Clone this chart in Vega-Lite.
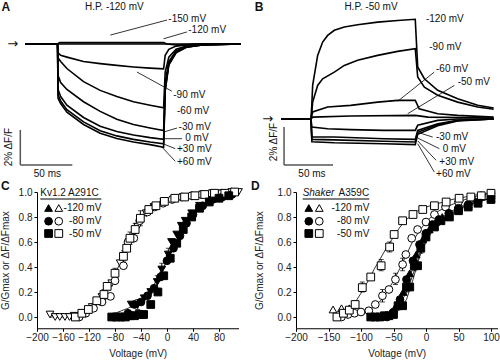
{
"$schema": "https://vega.github.io/schema/vega-lite/v6.json",
"padding": 0,
"background": "white",
"config": {
 "font": "Liberation Sans",
 "view": {"stroke": null},
 "axis": {"grid": false, "domainColor": "#000", "tickColor": "#000", "labelColor": "#222", "titleColor": "#222", "labelFontSize": 10, "titleFontSize": 10, "titleFontWeight": "normal", "tickSize": 3, "labelFont": "Liberation Sans", "titleFont": "Liberation Sans"},
 "text": {"font": "Liberation Sans", "fontSize": 10, "color": "#111"}
},
"datasets": {
 "A_tr": [
  {"trace":"-150","t":0,"v":0},{"trace":"-150","t":31,"v":0},{"trace":"-150","t":33,"v":0.08},{"trace":"-150","t":133,"v":0.08},{"trace":"-150","t":136,"v":0},{"trace":"-150","t":145,"v":-0.06},{"trace":"-150","t":165,"v":0},{"trace":"-150","t":207,"v":0},
  {"trace":"-120","t":0,"v":0},{"trace":"-120","t":31,"v":0},{"trace":"-120","t":133,"v":0},{"trace":"-120","t":207,"v":0},
  {"trace":"-90","t":0,"v":0},{"trace":"-90","t":31,"v":0},{"trace":"-90","t":31.5,"v":-0.5},{"trace":"-90","t":34,"v":-0.65},{"trace":"-90","t":40,"v":-0.75},{"trace":"-90","t":56,"v":-1.0},{"trace":"-90","t":72,"v":-1.12},{"trace":"-90","t":88,"v":-1.22},{"trace":"-90","t":104,"v":-1.31},{"trace":"-90","t":120,"v":-1.38},{"trace":"-90","t":133,"v":-1.42},{"trace":"-90","t":134.5,"v":-0.65},{"trace":"-90","t":138,"v":-0.3},{"trace":"-90","t":145,"v":-0.12},{"trace":"-90","t":155,"v":-0.05},{"trace":"-90","t":170,"v":0},{"trace":"-90","t":207,"v":0},
  {"trace":"-60","t":0,"v":0},{"trace":"-60","t":31,"v":0},{"trace":"-60","t":31.5,"v":-0.8},{"trace":"-60","t":34,"v":-1.0},{"trace":"-60","t":40,"v":-1.4},{"trace":"-60","t":56,"v":-2.15},{"trace":"-60","t":72,"v":-2.65},{"trace":"-60","t":88,"v":-3.0},{"trace":"-60","t":104,"v":-3.3},{"trace":"-60","t":120,"v":-3.5},{"trace":"-60","t":133,"v":-3.65},{"trace":"-60","t":134.5,"v":-1.6},{"trace":"-60","t":138,"v":-0.75},{"trace":"-60","t":145,"v":-0.3},{"trace":"-60","t":155,"v":-0.12},{"trace":"-60","t":170,"v":-0.03},{"trace":"-60","t":207,"v":0},
  {"trace":"-30","t":0,"v":0},{"trace":"-30","t":31,"v":0},{"trace":"-30","t":31.5,"v":-1.8},{"trace":"-30","t":34,"v":-2.2},{"trace":"-30","t":40,"v":-2.6},{"trace":"-30","t":56,"v":-3.3},{"trace":"-30","t":72,"v":-3.85},{"trace":"-30","t":88,"v":-4.3},{"trace":"-30","t":104,"v":-4.6},{"trace":"-30","t":120,"v":-4.8},{"trace":"-30","t":133,"v":-4.95},{"trace":"-30","t":134.5,"v":-2.2},{"trace":"-30","t":138,"v":-1.0},{"trace":"-30","t":145,"v":-0.4},{"trace":"-30","t":155,"v":-0.15},{"trace":"-30","t":170,"v":-0.04},{"trace":"-30","t":207,"v":0},
  {"trace":"0","t":0,"v":0},{"trace":"0","t":31,"v":0},{"trace":"0","t":31.5,"v":-2.6},{"trace":"0","t":34,"v":-3.0},{"trace":"0","t":40,"v":-3.5},{"trace":"0","t":56,"v":-4.2},{"trace":"0","t":72,"v":-4.7},{"trace":"0","t":88,"v":-5.0},{"trace":"0","t":104,"v":-5.2},{"trace":"0","t":120,"v":-5.35},{"trace":"0","t":133,"v":-5.45},{"trace":"0","t":134.5,"v":-2.5},{"trace":"0","t":138,"v":-1.1},{"trace":"0","t":145,"v":-0.45},{"trace":"0","t":155,"v":-0.17},{"trace":"0","t":170,"v":-0.05},{"trace":"0","t":207,"v":0},
  {"trace":"+30","t":0,"v":0},{"trace":"+30","t":31,"v":0},{"trace":"+30","t":31.5,"v":-2.9},{"trace":"+30","t":34,"v":-3.25},{"trace":"+30","t":40,"v":-3.75},{"trace":"+30","t":56,"v":-4.45},{"trace":"+30","t":72,"v":-4.95},{"trace":"+30","t":88,"v":-5.25},{"trace":"+30","t":104,"v":-5.45},{"trace":"+30","t":120,"v":-5.6},{"trace":"+30","t":133,"v":-5.7},{"trace":"+30","t":134.5,"v":-2.6},{"trace":"+30","t":138,"v":-1.15},{"trace":"+30","t":145,"v":-0.47},{"trace":"+30","t":155,"v":-0.18},{"trace":"+30","t":170,"v":-0.05},{"trace":"+30","t":207,"v":0},
  {"trace":"+60","t":0,"v":0},{"trace":"+60","t":31,"v":0},{"trace":"+60","t":31.5,"v":-3.1},{"trace":"+60","t":34,"v":-3.4},{"trace":"+60","t":40,"v":-3.9},{"trace":"+60","t":56,"v":-4.6},{"trace":"+60","t":72,"v":-5.1},{"trace":"+60","t":88,"v":-5.4},{"trace":"+60","t":104,"v":-5.6},{"trace":"+60","t":120,"v":-5.75},{"trace":"+60","t":133,"v":-5.9},{"trace":"+60","t":134.5,"v":-2.7},{"trace":"+60","t":138,"v":-1.2},{"trace":"+60","t":145,"v":-0.5},{"trace":"+60","t":155,"v":-0.19},{"trace":"+60","t":170,"v":-0.05},{"trace":"+60","t":207,"v":0}
 ],
 "A_seg": [
  {"t":81.7,"v":0.51,"t2":136.3,"v2":1.37},
  {"t":133,"v":0.3,"t2":155.5,"v2":0.69},
  {"t":107.4,"v":-1.6,"t2":141,"v2":-2.7},
  {"t":133,"v":-5.03,"t2":145.9,"v2":-4.8},
  {"t":133,"v":-5.41,"t2":150.7,"v2":-5.41},
  {"t":132.4,"v":-5.7,"t2":144.2,"v2":-5.98},
  {"t":131.4,"v":-5.89,"t2":144.2,"v2":-6.7}
 ],
 "A_bar": [
  {"t":-4.8,"v":-4.91,"t2":-4.8,"v2":-6.91},
  {"t":-4.8,"v":-6.91,"t2":45.2,"v2":-6.91}
 ],
 "A_lab": [
  {"label":"-150 mV","t":137.5,"v":1.45},
  {"label":"-120 mV","t":156.7,"v":0.8},
  {"label":"-90 mV","t":142.3,"v":-2.91},
  {"label":"-60 mV","t":145.9,"v":-3.85},
  {"label":"-30 mV","t":147.4,"v":-4.74},
  {"label":"0 mV","t":153.8,"v":-5.37},
  {"label":"+30 mV","t":145.9,"v":-5.98},
  {"label":"+60 mV","t":145.9,"v":-6.74}
 ],
 "A_ctr": [
  {"label":"H.P. -120 mV","t":85.6,"v":2.11},
  {"label":"50 ms","t":21.2,"v":-7.43}
 ],
 "A_rot": [{"label":"2% ΔF/F","t":-15.4,"v":-5.89}],
 "A_let": [{"label":"A","t":-18.75,"v":2.11}],
 "A_arr": [{"label":"→","t":-12,"v":0}],
 "B_tr": [
  {"trace":"-120","t":0,"v":0},{"trace":"-120","t":30.6,"v":0},{"trace":"-120","t":31.5,"v":0.8},{"trace":"-120","t":32.3,"v":1.77},{"trace":"-120","t":37.4,"v":3.35},{"trace":"-120","t":42.5,"v":4.05},{"trace":"-120","t":47.6,"v":4.4},{"trace":"-120","t":54.4,"v":4.67},{"trace":"-120","t":64.6,"v":4.84},{"trace":"-120","t":78.2,"v":4.96},{"trace":"-120","t":98.6,"v":5.1},{"trace":"-120","t":119,"v":5.19},{"trace":"-120","t":137,"v":5.25},{"trace":"-120","t":139.5,"v":2.74},{"trace":"-120","t":146.3,"v":2.12},{"trace":"-120","t":159.9,"v":1.51},{"trace":"-120","t":180.3,"v":1.07},{"trace":"-120","t":200.7,"v":0.72},{"trace":"-120","t":217,"v":0.58},
  {"trace":"-90","t":0,"v":0},{"trace":"-90","t":30.6,"v":0},{"trace":"-90","t":31.5,"v":0.4},{"trace":"-90","t":32.3,"v":0.89},{"trace":"-90","t":37.4,"v":1.77},{"trace":"-90","t":42.5,"v":2.12},{"trace":"-90","t":54.4,"v":2.47},{"trace":"-90","t":64.6,"v":2.82},{"trace":"-90","t":78.2,"v":3.09},{"trace":"-90","t":98.6,"v":3.35},{"trace":"-90","t":119,"v":3.56},{"trace":"-90","t":137,"v":3.7},{"trace":"-90","t":139.5,"v":2.21},{"trace":"-90","t":146.3,"v":1.68},{"trace":"-90","t":159.9,"v":1.25},{"trace":"-90","t":180.3,"v":0.89},{"trace":"-90","t":200.7,"v":0.63},{"trace":"-90","t":217,"v":0.51},
  {"trace":"-60","t":0,"v":0},{"trace":"-60","t":30.6,"v":0},{"trace":"-60","t":32.3,"v":0.37},{"trace":"-60","t":47.6,"v":0.63},{"trace":"-60","t":71,"v":0.72},{"trace":"-60","t":98.6,"v":0.89},{"trace":"-60","t":119,"v":0.98},{"trace":"-60","t":137,"v":0.98},{"trace":"-60","t":141,"v":0.54},{"trace":"-60","t":159.9,"v":0.28},{"trace":"-60","t":180.3,"v":0.19},{"trace":"-60","t":217,"v":0.1},
  {"trace":"-50","t":0,"v":0},{"trace":"-50","t":30.6,"v":0},{"trace":"-50","t":32.3,"v":0.1},{"trace":"-50","t":71,"v":0.16},{"trace":"-50","t":137,"v":0.19},{"trace":"-50","t":150,"v":0.1},{"trace":"-50","t":217,"v":0.05},
  {"trace":"-30","t":0,"v":0},{"trace":"-30","t":30.6,"v":0},{"trace":"-30","t":31.5,"v":-0.42},{"trace":"-30","t":47.6,"v":-0.51},{"trace":"-30","t":71,"v":-0.56},{"trace":"-30","t":105,"v":-0.6},{"trace":"-30","t":137,"v":-0.6},{"trace":"-30","t":139.5,"v":-0.33},{"trace":"-30","t":159.9,"v":-0.07},{"trace":"-30","t":180,"v":0},{"trace":"-30","t":217,"v":0},
  {"trace":"0","t":0,"v":0},{"trace":"0","t":30.6,"v":0},{"trace":"0","t":31.5,"v":-0.95},{"trace":"0","t":54.4,"v":-0.95},{"trace":"0","t":105,"v":-1.04},{"trace":"0","t":137,"v":-1.07},{"trace":"0","t":139.5,"v":-0.6},{"trace":"0","t":159.9,"v":-0.25},{"trace":"0","t":180.3,"v":-0.07},{"trace":"0","t":217,"v":0},
  {"trace":"+30","t":0,"v":0},{"trace":"+30","t":30.6,"v":0},{"trace":"+30","t":31.5,"v":-1.07},{"trace":"+30","t":54.4,"v":-1.1},{"trace":"+30","t":105,"v":-1.17},{"trace":"+30","t":137,"v":-1.21},{"trace":"+30","t":139.5,"v":-0.7},{"trace":"+30","t":159.9,"v":-0.3},{"trace":"+30","t":180.3,"v":-0.08},{"trace":"+30","t":217,"v":0},
  {"trace":"+60","t":0,"v":0},{"trace":"+60","t":30.6,"v":0},{"trace":"+60","t":31.5,"v":-1.2},{"trace":"+60","t":54.4,"v":-1.25},{"trace":"+60","t":105,"v":-1.3},{"trace":"+60","t":137,"v":-1.35},{"trace":"+60","t":139.5,"v":-0.8},{"trace":"+60","t":159.9,"v":-0.35},{"trace":"+60","t":180.3,"v":-0.1},{"trace":"+60","t":217,"v":0}
 ],
 "B_seg": [
  {"t":119,"v":0.93,"t2":156.4,"v2":2.47},
  {"t":129.3,"v":0.28,"t2":176.9,"v2":1.77},
  {"t":139.5,"v":-0.7,"t2":154.8,"v2":-0.95},
  {"t":139.5,"v":-1.0,"t2":161.6,"v2":-1.56},
  {"t":139.5,"v":-1.15,"t2":158.2,"v2":-2.17},
  {"t":139.5,"v":-1.3,"t2":156.4,"v2":-2.79}
 ],
 "B_bar": [
  {"t":3.1,"v":-0.42,"t2":3.1,"v2":-2.42},
  {"t":3.1,"v":-2.42,"t2":53.1,"v2":-2.42}
 ],
 "B_lab": [
  {"label":"-120 mV","t":147.9,"v":5.25},
  {"label":"-90 mV","t":151.3,"v":3.79},
  {"label":"-60 mV","t":158.2,"v":2.65},
  {"label":"-50 mV","t":180.3,"v":1.95},
  {"label":"-30 mV","t":158.2,"v":-0.95},
  {"label":"0 mV","t":165,"v":-1.58},
  {"label":"+30 mV","t":161.6,"v":-2.26},
  {"label":"+60 mV","t":158.2,"v":-2.88}
 ],
 "B_ctr": [
  {"label":"H.P. -50 mV","t":91.8,"v":5.89},
  {"label":"50 ms","t":31.6,"v":-2.88}
 ],
 "B_rot": [{"label":"2% ΔF/F","t":-7.6,"v":-1.21}],
 "B_let": [{"label":"B","t":-22.4,"v":5.9}],
 "B_arr": [{"label":"→","t":-13.6,"v":0}],
 "C_pts": [
  {"h":"-120 mV","k":"F","V":-180,"y":0.02},{"h":"-120 mV","k":"F","V":-172,"y":0.0},{"h":"-120 mV","k":"F","V":-165,"y":0.0},{"h":"-120 mV","k":"F","V":-157,"y":0.0},{"h":"-120 mV","k":"F","V":-150,"y":0.0},{"h":"-120 mV","k":"F","V":-143,"y":0.01},{"h":"-120 mV","k":"F","V":-130,"y":0.03},{"h":"-120 mV","k":"F","V":-115,"y":0.08},{"h":"-120 mV","k":"F","V":-100,"y":0.16},{"h":"-120 mV","k":"F","V":-85,"y":0.27},{"h":"-120 mV","k":"F","V":-72,"y":0.43},{"h":"-120 mV","k":"F","V":-58,"y":0.6},{"h":"-120 mV","k":"F","V":-45,"y":0.72},{"h":"-120 mV","k":"F","V":-32,"y":0.83},{"h":"-120 mV","k":"F","V":-20,"y":0.88},{"h":"-120 mV","k":"F","V":-5,"y":0.92},{"h":"-120 mV","k":"F","V":10,"y":0.94},{"h":"-120 mV","k":"F","V":25,"y":0.96},{"h":"-120 mV","k":"F","V":40,"y":0.97},{"h":"-120 mV","k":"F","V":55,"y":0.98},{"h":"-120 mV","k":"F","V":70,"y":0.99},{"h":"-120 mV","k":"F","V":85,"y":0.99},{"h":"-120 mV","k":"F","V":100,"y":1.0},{"h":"-120 mV","k":"F","V":110,"y":1.0},
  {"h":"-120 mV","k":"G","V":-55,"y":0.1},{"h":"-120 mV","k":"G","V":-45,"y":0.1},{"h":"-120 mV","k":"G","V":-35,"y":0.15},{"h":"-120 mV","k":"G","V":-25,"y":0.2},{"h":"-120 mV","k":"G","V":-15,"y":0.28},{"h":"-120 mV","k":"G","V":-8,"y":0.38},{"h":"-120 mV","k":"G","V":2,"y":0.5},{"h":"-120 mV","k":"G","V":7,"y":0.6},{"h":"-120 mV","k":"G","V":15,"y":0.66},{"h":"-120 mV","k":"G","V":22,"y":0.73},{"h":"-120 mV","k":"G","V":28,"y":0.77},{"h":"-120 mV","k":"G","V":38,"y":0.83},{"h":"-120 mV","k":"G","V":50,"y":0.89},{"h":"-120 mV","k":"G","V":66,"y":0.93},{"h":"-120 mV","k":"G","V":81,"y":0.96},{"h":"-120 mV","k":"G","V":96,"y":0.98},
  {"h":"-80 mV","k":"F","V":-135,"y":0.0},{"h":"-80 mV","k":"F","V":-125,"y":0.03},{"h":"-80 mV","k":"F","V":-113,"y":0.07},{"h":"-80 mV","k":"F","V":-100,"y":0.12},{"h":"-80 mV","k":"F","V":-87,"y":0.165},{"h":"-80 mV","k":"F","V":-80,"y":0.29},{"h":"-80 mV","k":"F","V":-67,"y":0.41},{"h":"-80 mV","k":"F","V":-60,"y":0.6},{"h":"-80 mV","k":"F","V":-51,"y":0.63},{"h":"-80 mV","k":"F","V":-42,"y":0.77},{"h":"-80 mV","k":"F","V":-30,"y":0.84},{"h":"-80 mV","k":"F","V":-19,"y":0.88},{"h":"-80 mV","k":"F","V":-6,"y":0.91},{"h":"-80 mV","k":"F","V":8,"y":0.94},{"h":"-80 mV","k":"F","V":23,"y":0.96},{"h":"-80 mV","k":"F","V":38,"y":0.97},{"h":"-80 mV","k":"F","V":53,"y":0.98},{"h":"-80 mV","k":"F","V":68,"y":0.99},{"h":"-80 mV","k":"F","V":84,"y":0.99},{"h":"-80 mV","k":"F","V":99,"y":1.0},
  {"h":"-80 mV","k":"G","V":-80,"y":0.0},{"h":"-80 mV","k":"G","V":-70,"y":0.0},{"h":"-80 mV","k":"G","V":-60,"y":0.03},{"h":"-80 mV","k":"G","V":-50,"y":0.1},{"h":"-80 mV","k":"G","V":-40,"y":0.12},{"h":"-80 mV","k":"G","V":-30,"y":0.17},{"h":"-80 mV","k":"G","V":-20,"y":0.23},{"h":"-80 mV","k":"G","V":-10,"y":0.32},{"h":"-80 mV","k":"G","V":0,"y":0.45},{"h":"-80 mV","k":"G","V":10,"y":0.55},{"h":"-80 mV","k":"G","V":20,"y":0.65},{"h":"-80 mV","k":"G","V":30,"y":0.75},{"h":"-80 mV","k":"G","V":40,"y":0.82},{"h":"-80 mV","k":"G","V":55,"y":0.89},{"h":"-80 mV","k":"G","V":70,"y":0.94},{"h":"-80 mV","k":"G","V":85,"y":0.96},{"h":"-80 mV","k":"G","V":100,"y":0.98},
  {"h":"-50 mV","k":"F","V":-141,"y":0.0},{"h":"-50 mV","k":"F","V":-131,"y":0.03},{"h":"-50 mV","k":"F","V":-121,"y":0.06},{"h":"-50 mV","k":"F","V":-108,"y":0.13},{"h":"-50 mV","k":"F","V":-97,"y":0.18},{"h":"-50 mV","k":"F","V":-92,"y":0.245},{"h":"-50 mV","k":"F","V":-80,"y":0.35},{"h":"-50 mV","k":"F","V":-67,"y":0.485},{"h":"-50 mV","k":"F","V":-62,"y":0.55},{"h":"-50 mV","k":"F","V":-57,"y":0.63},{"h":"-50 mV","k":"F","V":-49,"y":0.7},{"h":"-50 mV","k":"F","V":-41,"y":0.79},{"h":"-50 mV","k":"F","V":-28,"y":0.86},{"h":"-50 mV","k":"F","V":-17,"y":0.89},{"h":"-50 mV","k":"F","V":-4,"y":0.925},{"h":"-50 mV","k":"F","V":12,"y":0.95},{"h":"-50 mV","k":"F","V":27,"y":0.96},{"h":"-50 mV","k":"F","V":43,"y":0.97},{"h":"-50 mV","k":"F","V":58,"y":0.98},{"h":"-50 mV","k":"F","V":73,"y":0.99},{"h":"-50 mV","k":"F","V":89,"y":0.99},{"h":"-50 mV","k":"F","V":104,"y":1.0},
  {"h":"-50 mV","k":"G","V":-85,"y":0.0},{"h":"-50 mV","k":"G","V":-78,"y":0.0},{"h":"-50 mV","k":"G","V":-71,"y":0.0},{"h":"-50 mV","k":"G","V":-64,"y":0.0},{"h":"-50 mV","k":"G","V":-57,"y":0.01},{"h":"-50 mV","k":"G","V":-50,"y":0.01},{"h":"-50 mV","k":"G","V":-43,"y":0.02},{"h":"-50 mV","k":"G","V":-36,"y":0.02},{"h":"-50 mV","k":"G","V":-25,"y":0.1},{"h":"-50 mV","k":"G","V":-14,"y":0.2},{"h":"-50 mV","k":"G","V":-5,"y":0.33},{"h":"-50 mV","k":"G","V":5,"y":0.47},{"h":"-50 mV","k":"G","V":15,"y":0.59},{"h":"-50 mV","k":"G","V":25,"y":0.7},{"h":"-50 mV","k":"G","V":38,"y":0.8},{"h":"-50 mV","k":"G","V":50,"y":0.87},{"h":"-50 mV","k":"G","V":65,"y":0.92},{"h":"-50 mV","k":"G","V":80,"y":0.95},{"h":"-50 mV","k":"G","V":95,"y":0.97}
 ],
 "C_err": [
  {"V":-97,"y":0.14,"y2":0.22},{"V":-80,"y":0.31,"y2":0.39},{"V":-67,"y":0.44,"y2":0.53},{"V":-57,"y":0.58,"y2":0.68},{"V":-49,"y":0.65,"y2":0.75},{"V":-41,"y":0.73,"y2":0.85},{"V":-28,"y":0.83,"y2":0.89},{"V":-15,"y":0.23,"y2":0.33},{"V":-8,"y":0.33,"y2":0.43},{"V":2,"y":0.45,"y2":0.55},{"V":-45,"y":0.06,"y2":0.14}
 ],
 "C_fit": [
  {"f":"F","V":-180,"y":0.0},{"f":"F","V":-160,"y":0.0},{"f":"F","V":-140,"y":0.01},{"f":"F","V":-130,"y":0.02},{"f":"F","V":-120,"y":0.05},{"f":"F","V":-110,"y":0.09},{"f":"F","V":-100,"y":0.15},{"f":"F","V":-90,"y":0.23},{"f":"F","V":-80,"y":0.34},{"f":"F","V":-70,"y":0.46},{"f":"F","V":-60,"y":0.58},{"f":"F","V":-50,"y":0.69},{"f":"F","V":-40,"y":0.78},{"f":"F","V":-30,"y":0.84},{"f":"F","V":-20,"y":0.89},{"f":"F","V":-10,"y":0.92},{"f":"F","V":0,"y":0.94},{"f":"F","V":20,"y":0.96},{"f":"F","V":40,"y":0.975},{"f":"F","V":60,"y":0.985},{"f":"F","V":80,"y":0.99},{"f":"F","V":110,"y":1.0},
  {"f":"G","V":-90,"y":0.02},{"f":"G","V":-80,"y":0.03},{"f":"G","V":-70,"y":0.05},{"f":"G","V":-60,"y":0.07},{"f":"G","V":-50,"y":0.1},{"f":"G","V":-40,"y":0.14},{"f":"G","V":-30,"y":0.19},{"f":"G","V":-20,"y":0.26},{"f":"G","V":-10,"y":0.35},{"f":"G","V":0,"y":0.45},{"f":"G","V":10,"y":0.55},{"f":"G","V":20,"y":0.65},{"f":"G","V":30,"y":0.74},{"f":"G","V":40,"y":0.81},{"f":"G","V":50,"y":0.87},{"f":"G","V":60,"y":0.91},{"f":"G","V":70,"y":0.94},{"f":"G","V":80,"y":0.96},{"f":"G","V":90,"y":0.97},{"f":"G","V":100,"y":0.98},{"f":"G","V":110,"y":0.99}
 ],
 "C_legP": [
  {"h":"-120 mV","k":"G","V":-182.2,"y":0.872},{"h":"-120 mV","k":"F","V":-166.5,"y":0.872},
  {"h":"-80 mV","k":"G","V":-182.2,"y":0.766},{"h":"-80 mV","k":"F","V":-166.5,"y":0.766},
  {"h":"-50 mV","k":"G","V":-182.2,"y":0.668},{"h":"-50 mV","k":"F","V":-166.5,"y":0.668}
 ],
 "C_legR": [
  {"label":"-120 mV","V":-101,"y":0.872},{"label":"-80 mV","V":-101,"y":0.766},{"label":"-50 mV","V":-101,"y":0.668}
 ],
 "C_legT": [{"label":"Kv1.2 A291C","V":-194.9,"y":0.992}],
 "C_ul": [{"V":-194.9,"V2":-101,"y":0.944}],
 "C_let": [{"label":"C","V":-248.8,"y":1.046}],
 "D_pts": [
  {"h":"-120 mV","k":"F","V":-143,"y":0.06},{"h":"-120 mV","k":"F","V":-130,"y":0.07},{"h":"-120 mV","k":"F","V":-118,"y":0.07},
  {"h":"-120 mV","k":"G","V":-70,"y":0.0},{"h":"-120 mV","k":"G","V":-55,"y":0.03},{"h":"-120 mV","k":"G","V":-45,"y":0.1},{"h":"-120 mV","k":"G","V":-35,"y":0.2},{"h":"-120 mV","k":"G","V":-25,"y":0.35},{"h":"-120 mV","k":"G","V":-15,"y":0.5},{"h":"-120 mV","k":"G","V":-5,"y":0.62},{"h":"-120 mV","k":"G","V":5,"y":0.7},{"h":"-120 mV","k":"G","V":15,"y":0.76},{"h":"-120 mV","k":"G","V":25,"y":0.8},{"h":"-120 mV","k":"G","V":35,"y":0.84},{"h":"-120 mV","k":"G","V":50,"y":0.87},{"h":"-120 mV","k":"G","V":65,"y":0.9},{"h":"-120 mV","k":"G","V":80,"y":0.92},{"h":"-120 mV","k":"G","V":100,"y":0.95},
  {"h":"-80 mV","k":"F","V":-130,"y":0.0},{"h":"-80 mV","k":"F","V":-120,"y":0.02},{"h":"-80 mV","k":"F","V":-110,"y":0.03},{"h":"-80 mV","k":"F","V":-100,"y":0.04},{"h":"-80 mV","k":"F","V":-88,"y":0.05},{"h":"-80 mV","k":"F","V":-78,"y":0.1},{"h":"-80 mV","k":"F","V":-67,"y":0.17},{"h":"-80 mV","k":"F","V":-57,"y":0.22},{"h":"-80 mV","k":"F","V":-47,"y":0.3},{"h":"-80 mV","k":"F","V":-36,"y":0.42},{"h":"-80 mV","k":"F","V":-31,"y":0.5},{"h":"-80 mV","k":"F","V":-22,"y":0.63},{"h":"-80 mV","k":"F","V":-13,"y":0.7},{"h":"-80 mV","k":"F","V":0,"y":0.76},{"h":"-80 mV","k":"F","V":13,"y":0.82},{"h":"-80 mV","k":"F","V":30,"y":0.88},{"h":"-80 mV","k":"F","V":50,"y":0.92},{"h":"-80 mV","k":"F","V":70,"y":0.95},{"h":"-80 mV","k":"F","V":85,"y":0.97},{"h":"-80 mV","k":"F","V":100,"y":0.99},
  {"h":"-80 mV","k":"G","V":-60,"y":0.0},{"h":"-80 mV","k":"G","V":-50,"y":0.04},{"h":"-80 mV","k":"G","V":-40,"y":0.14},{"h":"-80 mV","k":"G","V":-30,"y":0.3},{"h":"-80 mV","k":"G","V":-20,"y":0.45},{"h":"-80 mV","k":"G","V":-10,"y":0.58},{"h":"-80 mV","k":"G","V":0,"y":0.67},{"h":"-80 mV","k":"G","V":10,"y":0.74},{"h":"-80 mV","k":"G","V":20,"y":0.78},{"h":"-80 mV","k":"G","V":35,"y":0.83},{"h":"-80 mV","k":"G","V":50,"y":0.87},{"h":"-80 mV","k":"G","V":65,"y":0.9},{"h":"-80 mV","k":"G","V":80,"y":0.92},{"h":"-80 mV","k":"G","V":100,"y":0.95},
  {"h":"-50 mV","k":"F","V":-137,"y":0.0},{"h":"-50 mV","k":"F","V":-127,"y":0.03},{"h":"-50 mV","k":"F","V":-118,"y":0.055},{"h":"-50 mV","k":"F","V":-109,"y":0.1},{"h":"-50 mV","k":"F","V":-98,"y":0.235},{"h":"-50 mV","k":"F","V":-85,"y":0.32},{"h":"-50 mV","k":"F","V":-69,"y":0.41},{"h":"-50 mV","k":"F","V":-56,"y":0.56},{"h":"-50 mV","k":"F","V":-49,"y":0.66},{"h":"-50 mV","k":"F","V":-36,"y":0.77},{"h":"-50 mV","k":"F","V":-20,"y":0.82},{"h":"-50 mV","k":"F","V":-5,"y":0.86},{"h":"-50 mV","k":"F","V":13,"y":0.89},{"h":"-50 mV","k":"F","V":31,"y":0.92},{"h":"-50 mV","k":"F","V":51,"y":0.95},{"h":"-50 mV","k":"F","V":69,"y":0.96},{"h":"-50 mV","k":"F","V":85,"y":0.97},{"h":"-50 mV","k":"F","V":100,"y":0.99},
  {"h":"-50 mV","k":"G","V":-85,"y":0.0},{"h":"-50 mV","k":"G","V":-78,"y":0.0},{"h":"-50 mV","k":"G","V":-71,"y":0.0},{"h":"-50 mV","k":"G","V":-64,"y":0.01},{"h":"-50 mV","k":"G","V":-57,"y":0.01},{"h":"-50 mV","k":"G","V":-50,"y":0.02},{"h":"-50 mV","k":"G","V":-43,"y":0.09},{"h":"-50 mV","k":"G","V":-36,"y":0.09},{"h":"-50 mV","k":"G","V":-30,"y":0.24},{"h":"-50 mV","k":"G","V":-25,"y":0.24},{"h":"-50 mV","k":"G","V":-18,"y":0.41},{"h":"-50 mV","k":"G","V":-13,"y":0.41},{"h":"-50 mV","k":"G","V":-8,"y":0.55},{"h":"-50 mV","k":"G","V":0,"y":0.64},{"h":"-50 mV","k":"G","V":13,"y":0.72},{"h":"-50 mV","k":"G","V":23,"y":0.77},{"h":"-50 mV","k":"G","V":36,"y":0.8},{"h":"-50 mV","k":"G","V":50,"y":0.85},{"h":"-50 mV","k":"G","V":65,"y":0.88},{"h":"-50 mV","k":"G","V":80,"y":0.91},{"h":"-50 mV","k":"G","V":100,"y":0.94}
 ],
 "D_err": [
  {"V":-98,"y":0.2,"y2":0.28},{"V":-69,"y":0.37,"y2":0.46},{"V":-56,"y":0.52,"y2":0.6},{"V":-67,"y":0.12,"y2":0.22},{"V":-47,"y":0.26,"y2":0.35},{"V":-36,"y":0.37,"y2":0.47},{"V":-43,"y":0.06,"y2":0.12},{"V":-30,"y":0.2,"y2":0.28},{"V":-18,"y":0.37,"y2":0.45},{"V":-8,"y":0.51,"y2":0.59}
 ],
 "D_fit": [
  {"f":"FS","V":-140,"y":0.01},{"f":"FS","V":-130,"y":0.03},{"f":"FS","V":-120,"y":0.06},{"f":"FS","V":-110,"y":0.11},{"f":"FS","V":-100,"y":0.19},{"f":"FS","V":-90,"y":0.28},{"f":"FS","V":-80,"y":0.38},{"f":"FS","V":-70,"y":0.47},{"f":"FS","V":-60,"y":0.56},{"f":"FS","V":-50,"y":0.64},{"f":"FS","V":-40,"y":0.72},{"f":"FS","V":-30,"y":0.78},{"f":"FS","V":-20,"y":0.82},{"f":"FS","V":-10,"y":0.86},{"f":"FS","V":0,"y":0.88},{"f":"FS","V":20,"y":0.91},{"f":"FS","V":40,"y":0.94},{"f":"FS","V":60,"y":0.96},{"f":"FS","V":80,"y":0.98},{"f":"FS","V":100,"y":0.99},
  {"f":"FC","V":-130,"y":0.0},{"f":"FC","V":-110,"y":0.02},{"f":"FC","V":-100,"y":0.03},{"f":"FC","V":-90,"y":0.05},{"f":"FC","V":-80,"y":0.08},{"f":"FC","V":-70,"y":0.13},{"f":"FC","V":-60,"y":0.2},{"f":"FC","V":-50,"y":0.29},{"f":"FC","V":-40,"y":0.39},{"f":"FC","V":-30,"y":0.5},{"f":"FC","V":-20,"y":0.61},{"f":"FC","V":-10,"y":0.69},{"f":"FC","V":0,"y":0.76},{"f":"FC","V":10,"y":0.81},{"f":"FC","V":20,"y":0.85},{"f":"FC","V":40,"y":0.9},{"f":"FC","V":60,"y":0.94},{"f":"FC","V":80,"y":0.97},{"f":"FC","V":100,"y":0.99},
  {"f":"G1","V":-80,"y":0.0},{"f":"G1","V":-60,"y":0.02},{"f":"G1","V":-50,"y":0.06},{"f":"G1","V":-40,"y":0.13},{"f":"G1","V":-30,"y":0.25},{"f":"G1","V":-20,"y":0.4},{"f":"G1","V":-10,"y":0.55},{"f":"G1","V":0,"y":0.66},{"f":"G1","V":10,"y":0.73},{"f":"G1","V":20,"y":0.78},{"f":"G1","V":40,"y":0.85},{"f":"G1","V":60,"y":0.9},{"f":"G1","V":80,"y":0.93},{"f":"G1","V":100,"y":0.95},
  {"f":"G2","V":-80,"y":0.0},{"f":"G2","V":-60,"y":0.01},{"f":"G2","V":-50,"y":0.04},{"f":"G2","V":-40,"y":0.1},{"f":"G2","V":-30,"y":0.2},{"f":"G2","V":-20,"y":0.34},{"f":"G2","V":-10,"y":0.5},{"f":"G2","V":0,"y":0.62},{"f":"G2","V":10,"y":0.7},{"f":"G2","V":20,"y":0.76},{"f":"G2","V":40,"y":0.84},{"f":"G2","V":60,"y":0.89},{"f":"G2","V":80,"y":0.92},{"f":"G2","V":100,"y":0.95},
  {"f":"G3","V":-80,"y":0.0},{"f":"G3","V":-60,"y":0.01},{"f":"G3","V":-50,"y":0.02},{"f":"G3","V":-40,"y":0.06},{"f":"G3","V":-30,"y":0.14},{"f":"G3","V":-20,"y":0.3},{"f":"G3","V":-10,"y":0.48},{"f":"G3","V":0,"y":0.6},{"f":"G3","V":10,"y":0.69},{"f":"G3","V":20,"y":0.75},{"f":"G3","V":40,"y":0.83},{"f":"G3","V":60,"y":0.88},{"f":"G3","V":80,"y":0.92},{"f":"G3","V":100,"y":0.95}
 ],
 "D_legP": [
  {"h":"-120 mV","k":"G","V":-180.3,"y":0.872},{"h":"-120 mV","k":"F","V":-164.2,"y":0.872},
  {"h":"-80 mV","k":"G","V":-180.3,"y":0.766},{"h":"-80 mV","k":"F","V":-164.2,"y":0.766},
  {"h":"-50 mV","k":"G","V":-180.3,"y":0.668},{"h":"-50 mV","k":"F","V":-164.2,"y":0.668}
 ],
 "D_legR": [
  {"label":"-120 mV","V":-87.2,"y":0.872},{"label":"-80 mV","V":-87.2,"y":0.766},{"label":"-50 mV","V":-87.2,"y":0.668}
 ],
 "D_legI": [{"label":"Shaker","V":-189.8,"y":0.992}],
 "D_legT": [{"label":"A359C","V":-134.5,"y":0.992}],
 "D_ul": [{"V":-189.8,"V2":-87.2,"y":0.944}],
 "D_let": [{"label":"D","V":-262.6,"y":1.046}]
},
"spacing": 0,
"vconcat": [
 {"spacing": 0, "hconcat": [
  {
   "width": 213.3, "height": 178,
   "encoding": {
    "x": {"field":"t","type":"quantitative","scale":{"domain":[11.25,216.35],"nice":false,"zero":false},"axis":null},
    "y": {"field":"v","type":"quantitative","scale":{"domain":[-7.77,2.4],"nice":false,"zero":false},"axis":null}
   },
   "layer": [
    {"data":{"name":"A_tr"},"mark":{"type":"line","color":"#000","strokeWidth":1.6},"encoding":{"detail":{"field":"trace","type":"nominal"}}},
    {"data":{"name":"A_seg"},"mark":{"type":"rule","color":"#000","strokeWidth":0.8},"encoding":{"x2":{"field":"t2"},"y2":{"field":"v2"}}},
    {"data":{"name":"A_bar"},"mark":{"type":"rule","color":"#555","strokeWidth":1.5},"encoding":{"x2":{"field":"t2"},"y2":{"field":"v2"}}},
    {"data":{"name":"A_lab"},"mark":{"type":"text","align":"left","baseline":"middle","fontSize":10},"encoding":{"text":{"field":"label"}}},
    {"data":{"name":"A_ctr"},"mark":{"type":"text","align":"center","baseline":"middle","fontSize":10},"encoding":{"text":{"field":"label"}}},
    {"data":{"name":"A_rot"},"mark":{"type":"text","align":"center","baseline":"middle","fontSize":10,"angle":270},"encoding":{"text":{"field":"label"}}},
    {"data":{"name":"A_let"},"mark":{"type":"text","align":"center","baseline":"middle","fontSize":12,"fontWeight":"bold"},"encoding":{"text":{"field":"label"}}},
    {"data":{"name":"A_arr"},"mark":{"type":"text","align":"center","baseline":"middle","fontSize":13,"font":"DejaVu Sans"},"encoding":{"text":{"field":"label"}}}
   ]
  },
  {
   "width": 250, "height": 178,
   "encoding": {
    "x": {"field":"t","type":"quantitative","scale":{"domain":[-30.61,224.49],"nice":false,"zero":false},"axis":null},
    "y": {"field":"v","type":"quantitative","scale":{"domain":[-3.21,6.16],"nice":false,"zero":false},"axis":null}
   },
   "layer": [
    {"data":{"name":"B_tr"},"mark":{"type":"line","color":"#000","strokeWidth":1.6},"encoding":{"detail":{"field":"trace","type":"nominal"}}},
    {"data":{"name":"B_seg"},"mark":{"type":"rule","color":"#000","strokeWidth":0.8},"encoding":{"x2":{"field":"t2"},"y2":{"field":"v2"}}},
    {"data":{"name":"B_bar"},"mark":{"type":"rule","color":"#555","strokeWidth":1.5},"encoding":{"x2":{"field":"t2"},"y2":{"field":"v2"}}},
    {"data":{"name":"B_lab"},"mark":{"type":"text","align":"left","baseline":"middle","fontSize":10},"encoding":{"text":{"field":"label"}}},
    {"data":{"name":"B_ctr"},"mark":{"type":"text","align":"center","baseline":"middle","fontSize":10},"encoding":{"text":{"field":"label"}}},
    {"data":{"name":"B_rot"},"mark":{"type":"text","align":"center","baseline":"middle","fontSize":10,"angle":270},"encoding":{"text":{"field":"label"}}},
    {"data":{"name":"B_let"},"mark":{"type":"text","align":"center","baseline":"middle","fontSize":12,"fontWeight":"bold"},"encoding":{"text":{"field":"label"}}},
    {"data":{"name":"B_arr"},"mark":{"type":"text","align":"center","baseline":"middle","fontSize":13,"font":"DejaVu Sans"},"encoding":{"text":{"field":"label"}}}
   ]
  }
 ]},
 {"spacing": 5, "hconcat": [
  {
   "width": 201.5, "height": 136.25,
   "encoding": {
    "x": {"field":"V","type":"quantitative","scale":{"domain":[-200,110],"nice":false,"zero":false},"axis":{"title":"Voltage (mV)","values":[-200,-160,-120,-80,-40,0,40,80],"labelPadding":1,"titlePadding":6,"labelFlush":false,"labelOverlap":false}},
    "y": {"field":"y","type":"quantitative","scale":{"domain":[-0.09,1.0],"nice":false,"zero":false},"axis":{"title":"G/Gmax or ΔF/ΔFmax","values":[0,0.2,0.4,0.6,0.8,1.0],"format":".1f","labelPadding":2,"titlePadding":8}}
   },
   "resolve": {"scale": {"shape": "independent"}},
   "layer": [
    {"data":{"name":"C_fit"},"mark":{"type":"line","color":"#000","strokeWidth":0.8},"encoding":{"detail":{"field":"f","type":"nominal"}}},
    {"data":{"name":"C_err"},"mark":{"type":"errorbar","ticks":true,"color":"#000"},"encoding":{"y2":{"field":"y2"}}},
    {"data":{"name":"C_pts"},"mark":{"type":"point","filled":true,"stroke":"#000","strokeWidth":1,"size":60,"opacity":1},"encoding":{
      "shape":{"field":"h","type":"nominal","scale":{"domain":["-120 mV","-80 mV","-50 mV"],"range":["triangle-down","circle","square"]},"legend":null},
      "fill":{"field":"k","type":"nominal","scale":{"domain":["G","F"],"range":["#000","#fff"]},"legend":null}}},
    {"data":{"name":"C_ul"},"mark":{"type":"rule","color":"#000","strokeWidth":1},"encoding":{"x2":{"field":"V2"}}},
    {"data":{"name":"C_legP"},"mark":{"type":"point","filled":true,"stroke":"#000","strokeWidth":1,"size":60,"opacity":1},"encoding":{
      "shape":{"field":"h","type":"nominal","scale":{"domain":["-120 mV","-80 mV","-50 mV"],"range":["triangle-up","circle","square"]},"legend":null},
      "fill":{"field":"k","type":"nominal","scale":{"domain":["G","F"],"range":["#000","#fff"]},"legend":null}}},
    {"data":{"name":"C_legR"},"mark":{"type":"text","align":"right","baseline":"middle","fontSize":10},"encoding":{"text":{"field":"label"}}},
    {"data":{"name":"C_legT"},"mark":{"type":"text","align":"left","baseline":"middle","fontSize":10},"encoding":{"text":{"field":"label"}}},
    {"data":{"name":"C_let"},"mark":{"type":"text","align":"center","baseline":"middle","fontSize":12,"fontWeight":"bold"},"encoding":{"text":{"field":"label"}}}
   ]
  },
  {
   "width": 201.5, "height": 136.25,
   "encoding": {
    "x": {"field":"V","type":"quantitative","scale":{"domain":[-200,110],"nice":false,"zero":false},"axis":{"title":"Voltage (mV)","values":[-200,-150,-100,-50,0,50,100],"labelPadding":1,"titlePadding":6,"labelFlush":false,"labelOverlap":false}},
    "y": {"field":"y","type":"quantitative","scale":{"domain":[-0.09,1.0],"nice":false,"zero":false},"axis":{"title":"G/Gmax or ΔF/ΔFmax","values":[0,0.2,0.4,0.6,0.8,1.0],"format":".1f","labelPadding":2,"titlePadding":13}}
   },
   "resolve": {"scale": {"shape": "independent"}},
   "layer": [
    {"data":{"name":"D_fit"},"mark":{"type":"line","color":"#000","strokeWidth":0.8},"encoding":{"detail":{"field":"f","type":"nominal"}}},
    {"data":{"name":"D_err"},"mark":{"type":"errorbar","ticks":true,"color":"#000"},"encoding":{"y2":{"field":"y2"}}},
    {"data":{"name":"D_pts"},"mark":{"type":"point","filled":true,"stroke":"#000","strokeWidth":1,"size":60,"opacity":1},"encoding":{
      "shape":{"field":"h","type":"nominal","scale":{"domain":["-120 mV","-80 mV","-50 mV"],"range":["triangle-up","circle","square"]},"legend":null},
      "fill":{"field":"k","type":"nominal","scale":{"domain":["G","F"],"range":["#000","#fff"]},"legend":null}}},
    {"data":{"name":"D_ul"},"mark":{"type":"rule","color":"#000","strokeWidth":1},"encoding":{"x2":{"field":"V2"}}},
    {"data":{"name":"D_legP"},"mark":{"type":"point","filled":true,"stroke":"#000","strokeWidth":1,"size":60,"opacity":1},"encoding":{
      "shape":{"field":"h","type":"nominal","scale":{"domain":["-120 mV","-80 mV","-50 mV"],"range":["triangle-up","circle","square"]},"legend":null},
      "fill":{"field":"k","type":"nominal","scale":{"domain":["G","F"],"range":["#000","#fff"]},"legend":null}}},
    {"data":{"name":"D_legR"},"mark":{"type":"text","align":"right","baseline":"middle","fontSize":10},"encoding":{"text":{"field":"label"}}},
    {"data":{"name":"D_legI"},"mark":{"type":"text","align":"left","baseline":"middle","fontSize":10,"fontStyle":"italic"},"encoding":{"text":{"field":"label"}}},
    {"data":{"name":"D_legT"},"mark":{"type":"text","align":"left","baseline":"middle","fontSize":10},"encoding":{"text":{"field":"label"}}},
    {"data":{"name":"D_let"},"mark":{"type":"text","align":"center","baseline":"middle","fontSize":12,"fontWeight":"bold"},"encoding":{"text":{"field":"label"}}}
   ]
  }
 ]}
]
}
